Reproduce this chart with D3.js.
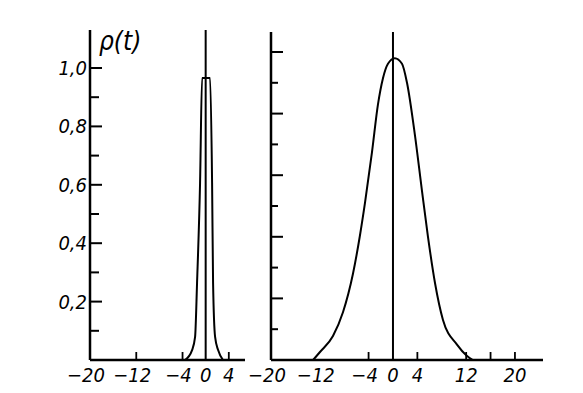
<!DOCTYPE html>
<html lang="ru">
<head>
<meta charset="utf-8">
<title>rho(t)</title>
<script src="https://d3js.org/d3.v7.min.js"></script>
<style>
  body { margin: 0; background: #fff; }
  text { font-family: "DejaVu Sans Condensed", "Liberation Sans Narrow", sans-serif; font-style: italic; fill: #000; }
</style>
</head>
<body>
<div id="canvas"></div>
<script>
// left panel: narrow correlation curve
const leftT = [-3.56, -2.35, -1.83, -1.49, -0.97, -0.62, 0.07, 0.76, 1.11, 1.28, 1.63, 2.15, 3.0]
const leftP = [0, 0.034, 0.079, 0.264, 0.606, 0.966, 0.966, 0.966, 0.606, 0.264, 0.079, 0.034, 0]
// right panel: wide curve
const rightT = [-13.1, -11.97, -9.84, -8.2, -6.56, -5.41, -4.59, -3.44, -2.46, -1.64, -0.82, 0.3, 1.48, 2.3, 3.6, 4.75, 5.74, 6.89, 8.2, 10.5, 12.1, 13.1]
const rightP = [0, 0.026, 0.078, 0.155, 0.28, 0.405, 0.51, 0.675, 0.83, 0.915, 0.962, 0.98, 0.962, 0.9, 0.73, 0.55, 0.4, 0.25, 0.13, 0.05, 0.014, 0]

const yMajor = [0.2, 0.4, 0.6, 0.8, 1.0]
const yMinor = [0.1, 0.3, 0.5, 0.7, 0.9]
const leftXTicks = [-12, -4, 4]
const leftXLabels = [-20, -12, -4, 0, 4]
const rightXTicks = [-4, 4, 12, 16, 20]
const rightXLabels = [-20, -12, -4, 0, 4, 12, 20]

const width = 583
const height = 393

const svg = d3.select("#canvas").append("svg")
  .attr("width", width)
  .attr("height", height)

const fmtY = d => d3.format(".1f")(d).replace(".", ",")
const fmtX = d => d < 0 ? "\u2212" + Math.abs(d) : String(d)

function panel(opt) {
  const x = d3.scaleLinear().domain(opt.xDomain).range(opt.xRange)
  const y = d3.scaleLinear().domain([0, 1]).range(opt.yRange)
  const g = svg.append("g")
  const x0 = x(opt.xDomain[0])

  // y axis line
  g.append("line")
    .attr("x1", x0).attr("x2", x0)
    .attr("y1", y(0)).attr("y2", y(opt.yTop))
    .attr("stroke", "#000").attr("stroke-width", 2.5)

  // x axis line
  g.append("line")
    .attr("x1", x0).attr("x2", x(opt.xDomain[1]))
    .attr("y1", y(0)).attr("y2", y(0))
    .attr("stroke", "#000").attr("stroke-width", 2.5)

  // centre line t = 0
  g.append("line")
    .attr("x1", x(0)).attr("x2", x(0))
    .attr("y1", y(0)).attr("y2", y(opt.yTop))
    .attr("stroke", "#000").attr("stroke-width", 2)

  // inward y ticks
  g.selectAll(".ymaj").data(yMajor).join("line")
    .attr("x1", x0).attr("x2", x0 + opt.majLen)
    .attr("y1", d => y(d)).attr("y2", d => y(d))
    .attr("stroke", "#000").attr("stroke-width", 2)
  g.selectAll(".ymin").data(yMinor).join("line")
    .attr("x1", x0).attr("x2", x0 + opt.minLen)
    .attr("y1", d => y(d)).attr("y2", d => y(d))
    .attr("stroke", "#000").attr("stroke-width", 2)

  // x ticks pointing up
  g.selectAll(".xt").data(opt.xTicks).join("line")
    .attr("x1", d => x(d)).attr("x2", d => x(d))
    .attr("y1", y(0)).attr("y2", y(0) - 8)
    .attr("stroke", "#000").attr("stroke-width", 1.8)

  // x labels
  g.selectAll(".xl").data(opt.xLabels).join("text")
    .attr("x", d => x(d) + (d < 0 ? -4 : 0))
    .attr("y", y(0) + 22)
    .attr("text-anchor", "middle")
    .attr("font-size", 20)
    .text(fmtX)

  if (opt.yLabels) {
    g.selectAll(".yl").data(yMajor).join("text")
      .attr("x", x0 - 3)
      .attr("y", d => y(d) + 7)
      .attr("text-anchor", "end")
      .attr("font-size", 20)
      .text(fmtY)
  }

  // curve
  const pts = opt.t.map((t, i) => [t, opt.p[i]])
  g.append("path")
    .datum(pts)
    .attr("d", d3.line().x(d => x(d[0])).y(d => y(d[1])).curve(d3.curveMonotoneX))
    .attr("fill", "none")
    .attr("stroke", "#000")
    .attr("stroke-width", 2)

  return { x, y }
}

panel({
  xDomain: [-20, 6.8], xRange: [90, 245],
  yRange: [360, 68], yTop: 1.13,
  majLen: 12, minLen: 9,
  xTicks: leftXTicks, xLabels: leftXLabels,
  yLabels: true,
  t: leftT, p: leftP
})

panel({
  xDomain: [-20, 24.6], xRange: [271, 543],
  yRange: [360, 52], yTop: 1.065,
  majLen: 12, minLen: 7,
  xTicks: rightXTicks, xLabels: rightXLabels,
  yLabels: false,
  t: rightT, p: rightP
})

// axis title
svg.append("text")
  .attr("x", 99)
  .attr("y", 50)
  .attr("font-size", 26)
  .text("\u03c1(t)")
</script>
</body>
</html>
